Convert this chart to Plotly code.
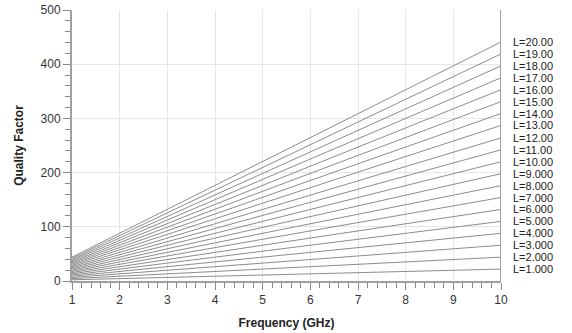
import plotly.graph_objects as go

inductance = [1, 2, 3, 4, 5, 6, 7, 8, 9, 10, 11, 12, 13, 14, 15, 16, 17, 18, 19, 20]
labels = ["L=1.000", "L=2.000", "L=3.000", "L=4.000", "L=5.000", "L=6.000", "L=7.000",
          "L=8.000", "L=9.000", "L=10.00", "L=11.00", "L=12.00", "L=13.00", "L=14.00",
          "L=15.00", "L=16.00", "L=17.00", "L=18.00", "L=19.00", "L=20.00"]
freq_ends = [1, 10]
q_at_1ghz = [2.2, 4.4, 6.6, 8.8, 11.0, 13.2, 15.4, 17.6, 19.8, 22.0,
             24.2, 26.4, 28.7, 30.9, 33.1, 35.3, 37.5, 39.7, 41.9, 44.1]
q_at_10ghz = [22, 44, 66, 88, 110, 132, 154, 176, 198, 220,
              242, 264, 287, 309, 331, 353, 375, 397, 419, 441]

FONT = "Liberation Sans, Arial"

fig = go.Figure()
for lab, q1, q10 in zip(labels, q_at_1ghz, q_at_10ghz):
    fig.add_trace(go.Scatter(x=freq_ends, y=[q1, q10], mode="lines",
                             line=dict(color="#8c8c8c", width=1), name=lab,
                             showlegend=False, hoverinfo="skip"))
    fig.add_annotation(x=10, y=q10, text=lab, showarrow=False, xanchor="left",
                       yanchor="middle", xshift=11, borderpad=0,
                       font=dict(family=FONT, size=11, color="#222"))

axis_common = dict(showline=True, linecolor="#a0a0a0", linewidth=2, mirror=False,
                   gridcolor="#e6e6e6", gridwidth=1, zeroline=False, automargin=False,
                   ticks="outside", tickcolor="#8a8a8a", ticklen=7, tickwidth=1,
                   tickfont=dict(family=FONT, size=12, color="#333"))

fig.update_xaxes(range=[1, 10], dtick=1, tick0=1,
                 minor=dict(dtick=0.2, ticks="outside", ticklen=5, tickcolor="#8a8a8a", showgrid=False),
                 title=dict(text="<b>Frequency (GHz)</b>", standoff=12,
                            font=dict(family=FONT, size=12, color="#222")),
                 **axis_common)
fig.update_yaxes(range=[0, 500], dtick=100,
                 minor=dict(dtick=20, ticks="outside", ticklen=5, tickcolor="#8a8a8a", showgrid=False),
                 title=dict(text="<b>Quality Factor</b>", standoff=14,
                            font=dict(family=FONT, size=12, color="#222")),
                 **axis_common)

fig.add_shape(type="line", xref="x", yref="paper", x0=10, x1=10, y0=0, y1=1,
              line=dict(color="#a0a0a0", width=2))

fig.update_layout(width=572, height=333, margin=dict(l=72, r=71, t=10, b=52),
                  plot_bgcolor="white", paper_bgcolor="white")

fig.write_html("out.html")
